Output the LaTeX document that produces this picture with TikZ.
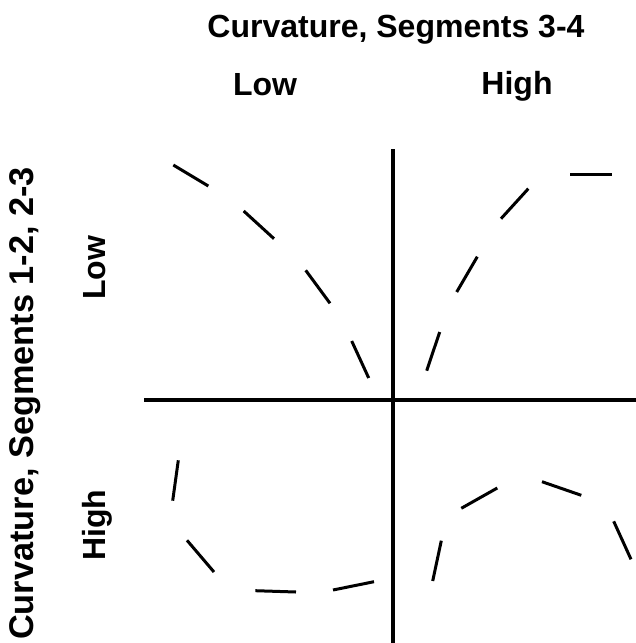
\documentclass[tikz,border=0pt]{standalone}
\usepackage{fontspec}
\setmainfont{Liberation Sans}
\begin{document}
\begin{tikzpicture}[x=1pt,y=1pt,
  lbl/.style={font=\bfseries\fontsize{32}{36}\selectfont, inner sep=0pt, anchor=base},
  sidelbl/.style={lbl, rotate=90},
  axis/.style={line width=4pt},
  seg/.style={line width=3pt}]
\useasboundingbox (0,0) rectangle (636,-643);
% titles
\node[lbl] (title) at (396,-37) {Curvature, Segments 3-4};
\node[lbl] (lowtop) at (265,-95) {Low};
\node[lbl] (hightop) at (517,-94.5) {High};
\node[sidelbl, font=\bfseries\fontsize{34.3}{36}\selectfont] (side) at (33,-403.5) {Curvature, Segments 1-2, 2-3};
\node[sidelbl] (lowside) at (105,-268) {Low};
\node[sidelbl] (highside) at (105,-525) {High};
% axes
\draw[axis] (393.3,-149) -- (393.3,-643);
\draw[axis] (144.3,-399.7) -- (636,-399.7);
% quadrant: low / low
\draw[seg] (173.3,-165) -- (208.3,-186);
\draw[seg] (243.7,-211) -- (274,-238.7);
\draw[seg] (305.7,-270.3) -- (330,-303.3);
\draw[seg] (351.7,-341) -- (368.7,-378);
% quadrant: low / high
\draw[seg] (426.7,-370.7) -- (439.7,-332);
\draw[seg] (456.7,-292) -- (477.3,-256.7);
\draw[seg] (501,-218.7) -- (528.3,-188.7);
\draw[seg] (570.3,-174.3) -- (612,-174.3);
% quadrant: high / low
\draw[seg] (178.3,-460.3) -- (172.7,-500.7);
\draw[seg] (187,-540.3) -- (214,-572);
\draw[seg] (255.3,-590.7) -- (296,-592);
\draw[seg] (333,-590) -- (374,-581.7);
% quadrant: high / high
\draw[seg] (432.7,-581) -- (441.3,-540.7);
\draw[seg] (461.3,-508.3) -- (497.3,-488);
\draw[seg] (542,-481.7) -- (581.3,-495.3);
\draw[seg] (613.7,-521.3) -- (631,-559.3);
\end{tikzpicture}
\end{document}
